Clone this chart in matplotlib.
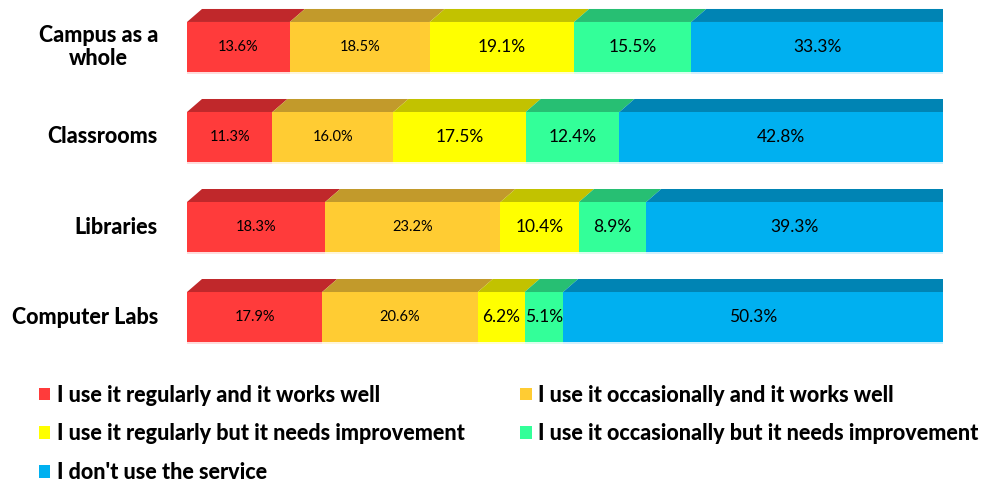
import numpy as np
import matplotlib.pyplot as plt
from matplotlib.patches import Rectangle, Polygon, Patch

plt.rcParams['font.family'] = ['Lato', 'DejaVu Sans']

# data
categories = ["Campus as a\nwhole", "Classrooms", "Libraries", "Computer Labs"]
series = ["I use it regularly and it works well",
          "I use it occasionally and it works well",
          "I use it regularly but it needs improvement",
          "I use it occasionally but it needs improvement",
          "I don't use the service"]
values = np.array([
    [13.6, 18.5, 19.1, 15.5, 33.3],
    [11.3, 16.0, 17.5, 12.4, 42.8],
    [18.3, 23.2, 10.4, 8.9, 39.3],
    [17.9, 20.6, 6.2, 5.1, 50.3],
])
front = ["#FF3B3B", "#FFCC33", "#FFFF00", "#33FF99", "#00B0F0"]
top = ["#C0282B", "#C29A2B", "#C2C200", "#27BF73", "#0084B4"]
side_blue = "#006E96"
label_size = [10.5, 10.5, 12.5, 12.5, 12.5]

fig = plt.figure(figsize=(9.95, 4.82), dpi=100)
ax = fig.add_axes([187 / 995, 0, 756 / 995, 1])
ax.set_xlim(0, 100)
ax.set_ylim(4.833, -0.522)
ax.axis("off")

h = 50 / 90
dx = 15 / 756 * 100
dy = 13 / 90

pct = values / values.sum(axis=1, keepdims=True) * 100
for i, row in enumerate(pct):
    left = 0
    y0 = i - h / 2
    y1 = i + h / 2
    for k, w in enumerate(row):
        ax.add_patch(Rectangle((left, y0), w, h, facecolor=front[k], edgecolor="none"))
        ax.add_patch(Rectangle((left, y1), w, 0.025, facecolor=front[k], alpha=0.18, edgecolor="none"))
        ax.add_patch(Polygon([(left, y0), (left + w, y0), (left + w + dx, y0 - dy), (left + dx, y0 - dy)],
                             closed=True, facecolor=top[k], edgecolor="none"))
        ax.text(left + w / 2, i, f"{values[i, k]:.1f}%", ha="center", va="center",
                fontsize=label_size[k], color="black")
        left += w
    ax.add_patch(Polygon([(left, y0), (left + dx, y0 - dy), (left + dx, y1 - dy), (left, y1)],
                         closed=True, facecolor=side_blue, edgecolor="none"))
    ax.text(-29 / 7.56, i, categories[i], ha="right", va="center", fontsize=15.5,
            fontweight="black", multialignment="center", linespacing=1.1)

handles = [Patch(facecolor=c, edgecolor="none") for c in front]
order = [0, 2, 4, 1, 3]
fig.legend([handles[j] for j in order], [series[j] for j in order], ncol=2,
           loc="upper left", bbox_to_anchor=(30 / 995, 1 - 376 / 482), frameon=False,
           prop={"size": 15.5, "weight": "black"}, handlelength=0.55, handleheight=0.55,
           handletextpad=0.3, labelspacing=0.82, columnspacing=2.55, borderaxespad=0)

fig.savefig("out.png", dpi=100)
